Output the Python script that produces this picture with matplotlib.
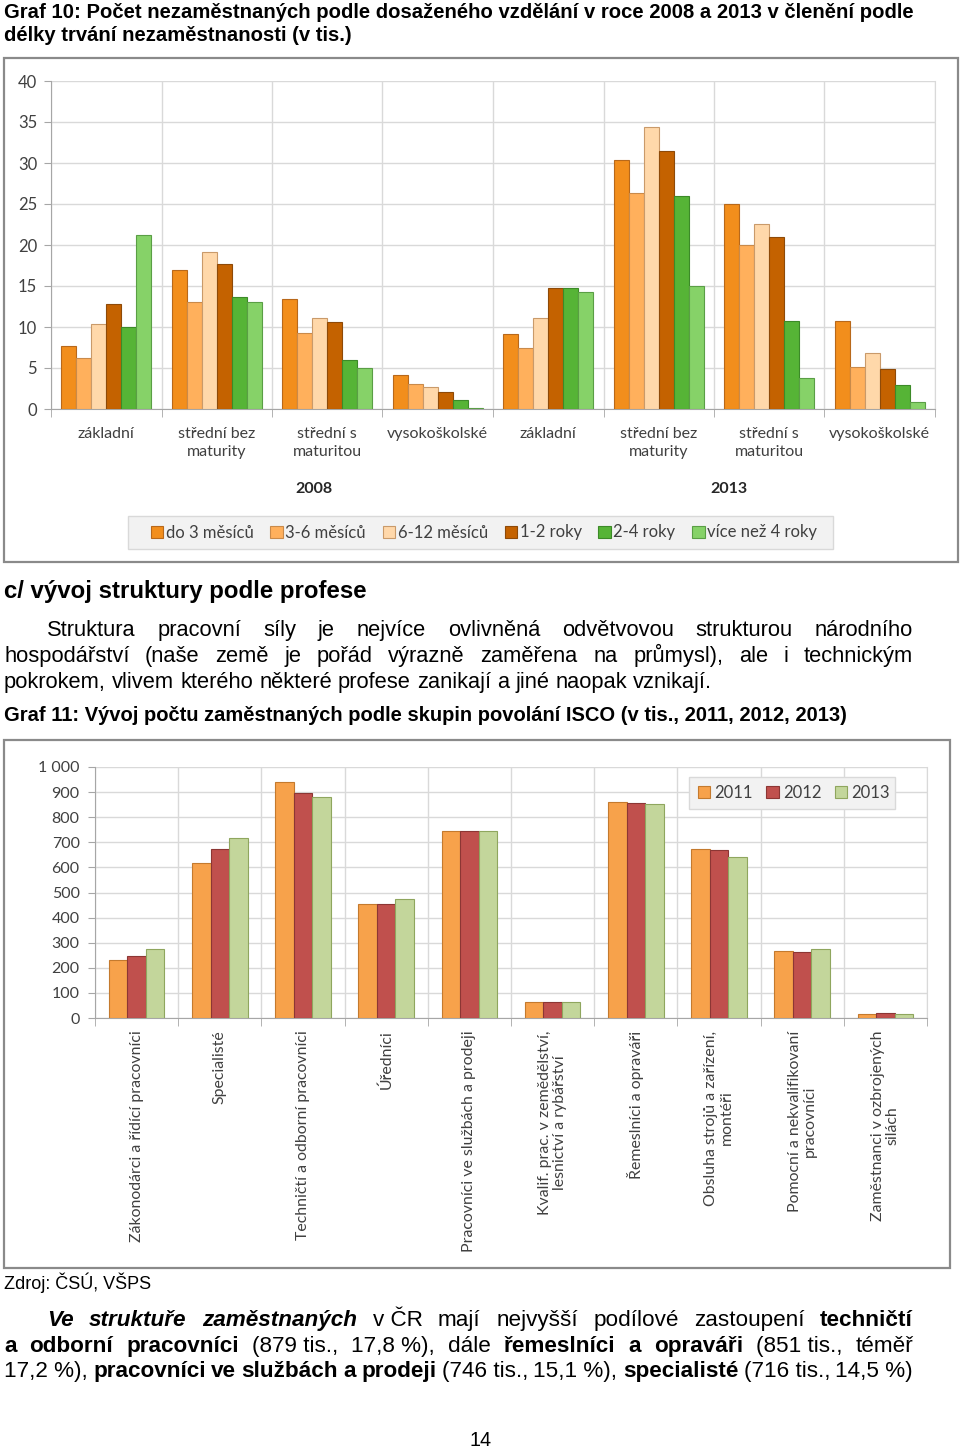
import matplotlib
matplotlib.use("Agg")
import matplotlib.pyplot as plt
import numpy as np
from matplotlib import font_manager as fm
from matplotlib.patches import Rectangle
from matplotlib.ticker import FuncFormatter

# Graf 10 - nezaměstnaní podle vzdělání a délky nezaměstnanosti (v tis.)
vzdelani = ["základní", "střední bez\nmaturity", "střední s\nmaturitou", "vysokoškolské",
            "základní", "střední bez\nmaturity", "střední s\nmaturitou", "vysokoškolské"]
roky_skupiny = ["2008", "2013"]
delka = ["do 3 měsíců", "3-6 měsíců", "6-12 měsíců", "1-2 roky", "2-4 roky", "více než 4 roky"]
do_3_mesicu = [7.7, 16.9, 13.4, 4.2, 9.1, 30.4, 25.0, 10.7]
mesicu_3_6 = [6.2, 13.1, 9.3, 3.0, 7.4, 26.4, 20.0, 5.1]
mesicu_6_12 = [10.4, 19.1, 11.1, 2.7, 11.1, 34.4, 22.5, 6.8]
roky_1_2 = [12.8, 17.7, 10.6, 2.1, 14.8, 31.5, 21.0, 4.9]
roky_2_4 = [10.0, 13.6, 6.0, 1.1, 14.8, 26.0, 10.7, 2.9]
vice_4_roky = [21.2, 13.0, 5.0, 0.1, 14.3, 15.0, 3.8, 0.8]

# Graf 11 - zaměstnaní podle skupin ISCO (v tis.)
profese = ["Zákonodárci a řídící pracovníci", "Specialisté", "Techničtí a odborní pracovníci",
           "Úředníci", "Pracovníci ve službách a prodeji",
           "Kvalif. prac. v zemědělství,\nlesnictví a rybářství", "Řemeslníci a opraváři",
           "Obsluha strojů a zařízení,\nmontéři", "Pomocní a nekvalifikovaní\npracovníci",
           "Zaměstnanci v ozbrojených\nsilách"]
roky = ["2011", "2012", "2013"]
zam_2011 = [232, 617, 939, 456, 744, 65, 862, 675, 265, 16]
zam_2012 = [249, 675, 898, 456, 744, 65, 856, 668, 261, 20]
zam_2013 = [273, 716, 879, 475, 746, 65, 851, 640, 275, 16]

W, H = 960, 1450


def have(name):
    try:
        fm.findfont(name, fallback_to_default=False)
        return True
    except ValueError:
        return False


NARROW = "Liberation Sans Narrow" if have("Liberation Sans Narrow") else "Liberation Sans"
ARIAL = "Liberation Sans"
CHART = "Lato"

fig = plt.figure(figsize=(W / 100, H / 100), dpi=100)
fig.patch.set_facecolor("white")
renderer = fig.canvas.get_renderer()


def fx(x):
    return x / W


def fy(y):
    return 1 - y / H


def width_of(s, **kw):
    t = fig.text(0, 0, s, **kw)
    w = t.get_window_extent(renderer).width
    t.remove()
    return w


def fit_size(s, target, **kw):
    return 10 * target / width_of(s, size=10, **kw)


def px_axes(l, t, r, b):
    return fig.add_axes([fx(l), fy(b), (r - l) / W, (b - t) / H])


def box(l, t, r, b, edge, face="none", lw=1.0, z=0):
    fig.add_artist(Rectangle((fx(l), fy(b)), (r - l) / W, (b - t) / H, transform=fig.transFigure,
                             facecolor=face, edgecolor=edge, lw=lw, zorder=z))


def justify(words, base, x0, x1, size, family, indent=0, stretch=True):
    # words: list of (text, weight, style)
    ws = [width_of(w, size=size, family=family, weight=wt, style=st) for w, wt, st in words]
    space = width_of("a a", size=size, family=family) - 2 * width_of("a", size=size, family=family)
    if stretch and len(words) > 1:
        gap = (x1 - x0 - indent - sum(ws)) / (len(words) - 1)
    else:
        gap = space
    x = x0 + indent
    for (w, wt, st), wd in zip(words, ws):
        fig.text(fx(x), fy(base), w, size=size, family=family, weight=wt, style=st,
                 va="baseline", ha="left")
        x += wd + gap


def plain(s):
    return [(w, "normal", "normal") for w in s.split()]


def bold(s):
    return [(w, "bold", "normal") for w in s.split()]


def boldit(s):
    return [(w, "bold", "italic") for w in s.split()]


# ---- nadpis grafu 10
t1 = "Graf 10: Počet nezaměstnaných podle dosaženého vzdělání v roce 2008 a 2013 v členění podle"
sz = fit_size(t1, 909, family=NARROW, weight="bold")
fig.text(fx(4), fy(18), t1, size=sz, family=NARROW, weight="bold", va="baseline")
fig.text(fx(4), fy(41), "délky trvání nezaměstnanosti (v tis.)", size=sz, family=NARROW,
         weight="bold", va="baseline")

# ---- graf 10
box(4, 58, 958, 562, "#8a8a8a", lw=1.6)
ax1 = px_axes(51, 81, 935, 409)
x = np.arange(len(vzdelani))
bw = 0.135
serie1 = [do_3_mesicu, mesicu_3_6, mesicu_6_12, roky_1_2, roky_2_4, vice_4_roky]
barvy1 = ["#F28E1C", "#FFB05C", "#FFD8AA", "#C46200", "#56B436", "#86D268"]
hrany1 = ["#B8681A", "#C98A4A", "#C99A6A", "#8E4A08", "#3C8A28", "#5A9E45"]
handles = []
for j, (vals, c, e) in enumerate(zip(serie1, barvy1, hrany1)):
    b = ax1.bar(x + (j - 2.5) * bw, vals, bw, color=c, edgecolor=e, lw=0.8, label=delka[j], zorder=3)
    handles.append(b)
ax1.set_xlim(-0.5, len(vzdelani) - 0.5)
ax1.set_ylim(0, 40)
ax1.set_yticks(range(0, 41, 5))
ax1.set_xticks(x)
ax1.set_xticklabels(vzdelani, family=CHART, size=11.5, linespacing=1.35, color="#404040")
ax1.set_xticks(np.arange(-0.5, len(vzdelani), 1), minor=True)
ax1.tick_params(axis="x", which="major", length=0, pad=13)
ax1.tick_params(axis="x", which="minor", length=6, color="#a6a6a6")
ax1.tick_params(axis="y", length=5, color="#a6a6a6", pad=5, labelsize=12, labelcolor="#404040")
for lab in ax1.get_yticklabels():
    lab.set_family(CHART)
ax1.grid(axis="y", color="#d9d9d9", lw=1)
ax1.grid(axis="x", which="minor", color="#d9d9d9", lw=1)
ax1.set_axisbelow(True)
ax1.spines["top"].set_visible(False)
ax1.spines["right"].set_color("#d9d9d9")
ax1.spines["left"].set_color("#a6a6a6")
ax1.spines["bottom"].set_color("#a6a6a6")
fig.text(fx(314), fy(489), roky_skupiny[0], family=CHART, weight="bold", size=11.5,
         ha="center", va="center", color="#262626")
fig.text(fx(729), fy(489), roky_skupiny[1], family=CHART, weight="bold", size=11.5,
         ha="center", va="center", color="#262626")
box(128, 516, 833, 549, "#d9d9d9", face="#f2f2f2", z=1)
leg1 = fig.legend(handles, delka, loc="center", bbox_to_anchor=(fx(484), fy(532.5)), ncol=6,
                  prop={"family": CHART, "size": 12}, handlelength=0.75, handleheight=0.75,
                  handletextpad=0.15, columnspacing=1.0, borderpad=0.3, borderaxespad=0,
                  frameon=False)
leg1.set_zorder(2)
for t in leg1.get_texts():
    t.set_color("#404040")

# ---- text mezi grafy
hs = fit_size("c/ vývoj struktury podle profese", 364, family=ARIAL, weight="bold")
fig.text(fx(4), fy(598), "c/ vývoj struktury podle profese", size=hs, family=ARIAL, weight="bold",
         va="baseline")
ps = fit_size("pokrokem, vlivem kterého některé profese zanikají a jiné naopak vznikají.", 712, family=ARIAL)
justify(plain("Struktura pracovní síly je nejvíce ovlivněná odvětvovou strukturou národního"),
        636, 4, 913, ps, ARIAL, indent=43)
justify(plain("hospodářství (naše země je pořád výrazně zaměřena na průmysl), ale i technickým"),
        662, 4, 913, ps, ARIAL)
justify(plain("pokrokem, vlivem kterého některé profese zanikají a jiné naopak vznikají."),
        688, 4, 913, ps, ARIAL, stretch=False)
t11 = "Graf 11: Vývoj počtu zaměstnaných podle skupin povolání ISCO (v tis., 2011, 2012, 2013)"
gs = fit_size(t11, 843, family=ARIAL, weight="bold")
fig.text(fx(4), fy(721), t11, size=gs, family=ARIAL, weight="bold", va="baseline")

# ---- graf 11
box(4, 740, 950, 1268, "#8a8a8a", lw=1.6)
ax2 = px_axes(95, 767, 927, 1018)
x2 = np.arange(len(profese))
bw2 = 0.223
serie2 = [zam_2011, zam_2012, zam_2013]
barvy2 = ["#F7A24B", "#C0504D", "#C3D69B"]
hrany2 = ["#C47A2E", "#8C3634", "#8FA65E"]
handles2 = []
for j, (vals, c, e) in enumerate(zip(serie2, barvy2, hrany2)):
    b = ax2.bar(x2 + (j - 1) * bw2, vals, bw2, color=c, edgecolor=e, lw=0.8, label=roky[j], zorder=3)
    handles2.append(b)
ax2.set_xlim(-0.5, len(profese) - 0.5)
ax2.set_ylim(0, 1000)
ax2.set_yticks(range(0, 1001, 100))
ax2.yaxis.set_major_formatter(FuncFormatter(lambda v, p: f"{v:,.0f}".replace(",", " ")))
ax2.set_xticks(x2)
ax2.set_xticklabels(profese, rotation=90, family=CHART, size=11.4, linespacing=1.1,
                    multialignment="center", color="#404040")
ax2.set_xticks(np.arange(-0.5, len(profese), 1), minor=True)
ax2.tick_params(axis="x", which="major", length=0, pad=9)
ax2.tick_params(axis="x", which="minor", length=6, color="#a6a6a6")
ax2.tick_params(axis="y", length=5, color="#a6a6a6", pad=6, labelsize=11.5, labelcolor="#404040")
for lab in ax2.get_yticklabels():
    lab.set_family(CHART)
ax2.grid(axis="y", color="#d9d9d9", lw=1)
ax2.grid(axis="x", which="minor", color="#d9d9d9", lw=1)
ax2.set_axisbelow(True)
ax2.spines["top"].set_visible(False)
ax2.spines["right"].set_color("#d9d9d9")
ax2.spines["left"].set_color("#a6a6a6")
ax2.spines["bottom"].set_color("#a6a6a6")
box(689, 777, 895, 809, "#d9d9d9", face="#f2f2f2", z=1)
leg2 = fig.legend(handles2, roky, loc="center", bbox_to_anchor=(fx(794), fy(793)), ncol=3,
                  prop={"family": CHART, "size": 12}, handlelength=0.75, handleheight=0.75,
                  handletextpad=0.25, columnspacing=0.8, borderpad=0.3, borderaxespad=0,
                  frameon=False)
leg2.set_zorder(2)
for t in leg2.get_texts():
    t.set_color("#404040")

# ---- zdroj a text pod grafem
zs = fit_size("Zdroj: ČSÚ, VŠPS", 147, family=NARROW)
fig.text(fx(4), fy(1289), "Zdroj: ČSÚ, VŠPS", size=zs, family=NARROW, va="baseline")
bs = fit_size("17,2 %), pracovníci ve službách a prodeji (746 tis., 15,1 %), specialisté (716 tis., 14,5 %)",
              880, family=NARROW)
line1 = boldit("Ve struktuře zaměstnaných") + [("v ČR", "normal", "normal")] + \
    plain("mají nejvyšší podílové zastoupení") + bold("techničtí")
line2 = bold("a odborní pracovníci") + [("(879 tis.,", "normal", "normal"), ("17,8 %),", "normal", "normal")] + \
    plain("dále") + bold("řemeslníci a opraváři") + [("(851 tis.,", "normal", "normal")] + plain("téměř")
line3 = [("17,2 %),", "normal", "normal")] + bold("pracovníci ve službách a prodeji") + \
    [("(746 tis.,", "normal", "normal"), ("15,1 %),", "normal", "normal")] + bold("specialisté") + \
    [("(716 tis.,", "normal", "normal"), ("14,5 %)", "normal", "normal")]
justify(line1, 1326, 4, 913, bs, NARROW, indent=43)
justify(line2, 1352, 4, 913, bs, NARROW)
justify(line3, 1377, 4, 913, bs, NARROW)

fig.text(fx(481), fy(1446), "14", size=zs * 1.1, family=NARROW, ha="center", va="baseline")

fig.savefig("out.png", dpi=100)
